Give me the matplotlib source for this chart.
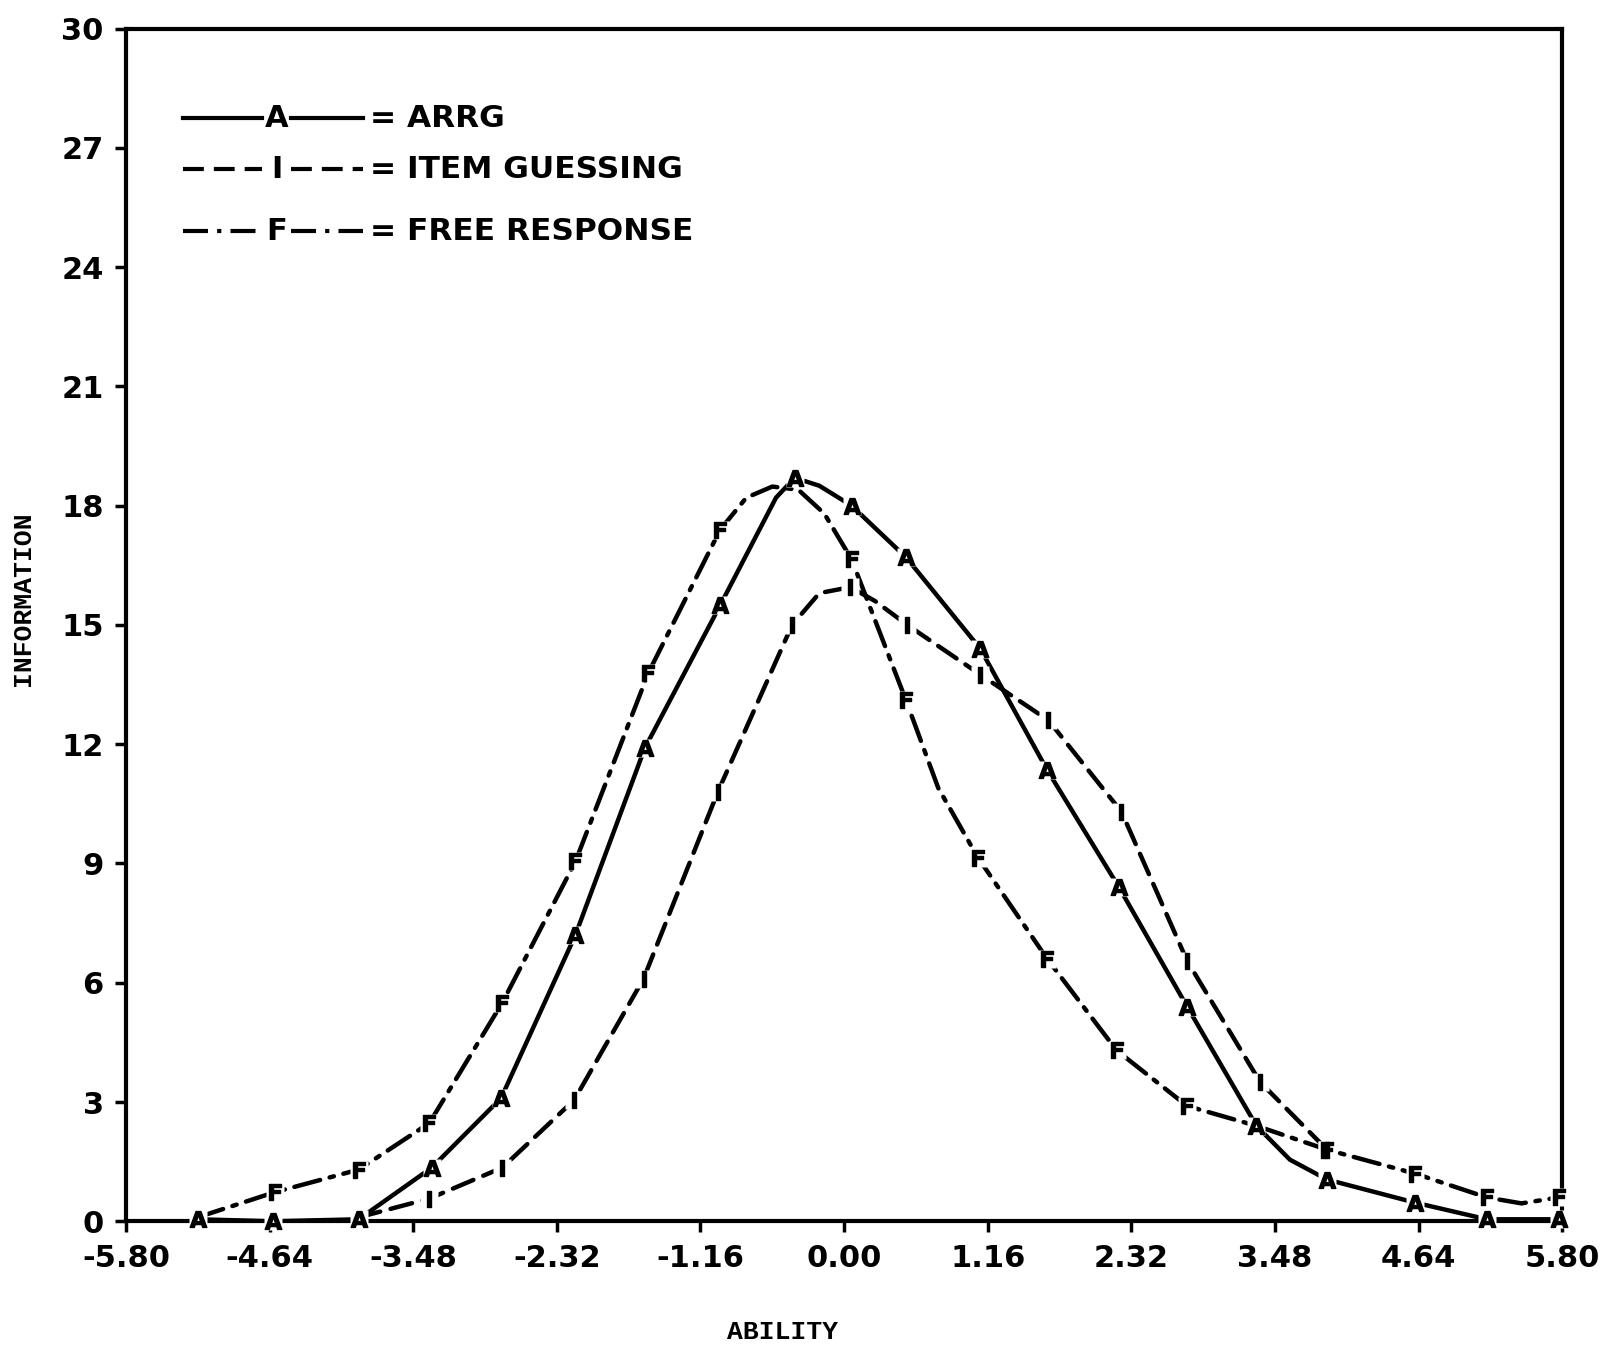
import matplotlib
matplotlib.use("Agg")
import matplotlib.pyplot as plt
from matplotlib.lines import Line2D

# ---- data ----
# curve traces; letters are drawn only at the plotted (marked) points
arrg_x = [-5.22, -4.61, -3.92, -3.33, -2.77, -2.17, -1.61, -1.00, -0.55, -0.40, -0.20, 0.06, 0.50, 1.10, 1.64, 2.22, 2.77, 3.33, 3.60, 3.90, 4.61, 5.19, 5.77]
arrg_y = [0.05, 0.0, 0.05, 1.35, 3.1, 7.2, 11.9, 15.5, 18.2, 18.7, 18.5, 18.0, 16.7, 14.4, 11.35, 8.4, 5.4, 2.4, 1.55, 1.05, 0.47, 0.05, 0.05]
arrg_marked = [True, True, True, True, True, True, True, True, False, True, False, True, True, True, True, True, True, True, False, True, True, True, True]

item_x = [-3.92, -3.35, -2.76, -2.18, -1.62, -1.02, -0.42, -0.20, 0.05, 0.25, 0.51, 1.10, 1.65, 2.24, 2.77, 3.36, 3.90]
item_y = [0.1, 0.57, 1.35, 3.05, 6.1, 10.8, 15.0, 15.8, 15.95, 15.6, 15.0, 13.75, 12.6, 10.3, 6.55, 3.5, 1.8]
item_marked = [False, True, True, True, True, True, True, False, True, False, True, True, True, True, True, True, True]

free_x = [-5.22, -4.60, -3.92, -3.35, -2.76, -2.17, -1.58, -1.00, -0.79, -0.58, -0.37, -0.16, 0.06, 0.50, 0.76, 1.08, 1.64, 2.20, 2.77, 3.33, 3.90, 4.61, 5.19, 5.47, 5.77]
free_y = [0.1, 0.73, 1.3, 2.47, 5.5, 9.05, 13.8, 17.4, 18.2, 18.48, 18.4, 17.8, 16.65, 13.1, 10.9, 9.15, 6.6, 4.3, 2.9, 2.4, 1.8, 1.2, 0.6, 0.45, 0.6]
free_marked = [False, True, True, True, True, True, True, True, False, False, False, False, True, True, False, True, True, True, True, False, True, True, True, False, True]

xticks = [-5.80, -4.64, -3.48, -2.32, -1.16, 0.00, 1.16, 2.32, 3.48, 4.64, 5.80]
xticklabels = ["-5.80", "-4.64", "-3.48", "-2.32", "-1.16", "0.00", "1.16", "2.32", "3.48", "4.64", "5.80"]
yticks = [0, 3, 6, 9, 12, 15, 18, 21, 24, 27, 30]
yticklabels = [str(v) for v in yticks]

legend_labels = ["= ARRG", "= ITEM GUESSING", "= FREE RESPONSE"]
legend_letters = ["A", "I", "F"]

# ---- figure ----
fig = plt.figure(figsize=(16.23, 13.6), dpi=100)
ax = fig.add_axes([0.0776, 0.102, 0.885, 0.877])
ax.set_xlim(-5.8, 5.8)
ax.set_ylim(0, 30)

lw = 3.2
styles = {
    "A": dict(ls="-"),
    "I": dict(ls=(0, (5, 2.4))),
    "F": dict(ls=(0, (6, 2.2, 1.0, 2.2))),
}

def draw(xs, ys, letter, marked):
    ax.plot(xs, ys, color="black", lw=lw, zorder=2, solid_capstyle="round",
            dash_capstyle="round", solid_joinstyle="round", **styles[letter])
    mx = [x for x, m in zip(xs, marked) if m]
    my = [y for y, m in zip(ys, marked) if m]
    ax.plot(mx, my, ls="none", marker="s", ms=13, mfc="white", mec="none", zorder=3, clip_on=False)
    ax.plot(mx, my, ls="none", marker=r"$\mathbf{%s}$" % letter, ms=12, color="black",
            zorder=4, clip_on=False)

draw(arrg_x, arrg_y, "A", arrg_marked)
draw(item_x, item_y, "I", item_marked)
draw(free_x, free_y, "F", free_marked)

# ---- axes styling ----
for s in ax.spines.values():
    s.set_linewidth(3.0)
ax.set_xticks(xticks)
ax.set_xticklabels(xticklabels)
ax.set_yticks(yticks)
ax.set_yticklabels(yticklabels)
ax.tick_params(axis="both", direction="out", length=8, width=2.5, labelsize=22, pad=8)
for lab in ax.get_xticklabels() + ax.get_yticklabels():
    lab.set_fontweight("bold")
    lab.set_family("DejaVu Sans")

fig.text(0.482, 0.012, "ABILITY", ha="center", va="bottom", fontsize=19,
         fontweight="bold", family="Liberation Mono")
fig.text(0.014, 0.56, "INFORMATION", ha="center", va="center", rotation=90, fontsize=19,
         fontweight="bold", family="Liberation Mono")

# ---- legend drawn manually ----
rows_y = [0.925, 0.882, 0.830]
for yy, letter, lab in zip(rows_y, legend_letters, legend_labels):
    st = styles[letter]
    ax.add_line(Line2D([0.04, 0.095], [yy, yy], transform=ax.transAxes, color="black", lw=3, **st))
    ax.add_line(Line2D([0.115, 0.165], [yy, yy], transform=ax.transAxes, color="black", lw=3, **st))
    ax.text(0.105, yy, letter, transform=ax.transAxes, ha="center", va="center",
            fontsize=22, fontweight="bold", family="DejaVu Sans")
    ax.text(0.170, yy, lab, transform=ax.transAxes, ha="left", va="center",
            fontsize=22.5, fontweight="bold", family="DejaVu Sans")

fig.savefig("out.png", dpi=100, facecolor="white")
